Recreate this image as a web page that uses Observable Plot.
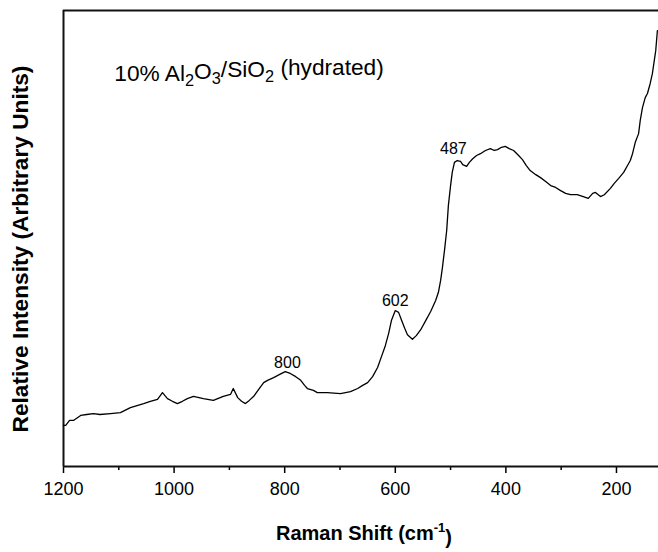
<!DOCTYPE html>
<html><head><meta charset="utf-8">
<script src="https://cdn.jsdelivr.net/npm/d3@7"></script>
<script src="https://cdn.jsdelivr.net/npm/@observablehq/plot@0.6"></script>
<style>body{margin:0;background:#fff;}</style>
</head><body><div id="chart"></div>
<script>
// Raman shift (cm-1) and relative intensity (arbitrary units, 0-100 frame)
const shift = [1200,1196,1189,1182,1169,1158,1146,1134,1115,1097,1079,1055,1043,1030,1021,1012,1003,994,985,976,965,947,929,911,898,893,885,878,871,864,856,847,838,831,820,809,799,790,780,771,764,759,748,741,723,699,681,668,659,650,641,632,625,618,612,607,600,594,589,583,578,569,562,554,545,536,527,522,518,515,511,507,504,500,497,493,488,482,478,471,466,460,453,446,437,428,421,415,408,401,394,386,377,370,363,356,346,338,328,319,310,301,292,283,271,260,251,243,238,229,222,211,204,196,187,180,175,171,166,160,157,153,148,144,139,135,129,126];
const intensity = [9.0,9.0,10.1,10.1,11.2,11.4,11.6,11.4,11.6,11.8,12.9,13.8,14.3,14.7,16.2,14.9,14.3,13.8,14.3,14.9,15.4,14.9,14.5,15.4,15.8,17.1,15.1,14.3,13.8,14.5,15.4,16.9,18.4,18.9,19.5,20.2,20.8,20.4,19.7,18.9,17.8,17.1,16.7,16.2,16.2,16.0,16.4,17.1,17.8,18.4,19.7,21.7,24.1,26.5,29.2,32.0,34.2,33.8,32.2,30.3,28.9,27.9,28.7,30.0,32.0,34.0,36.4,38.2,40.8,43.4,47.4,51.8,57.2,61.6,64.5,66.7,67.1,66.9,66.2,65.8,66.7,67.5,68.2,68.6,69.3,69.7,69.3,69.5,70.0,70.2,69.7,69.3,68.2,67.3,66.0,64.9,64.0,63.4,62.5,61.6,61.2,60.5,59.9,59.6,59.6,59.2,58.8,59.9,60.1,59.2,59.6,61.0,62.1,63.2,64.5,66.0,67.1,68.6,71.1,73.0,75.9,78.7,80.9,81.8,84.0,86.2,91.2,95.6];

const peakLabels = ["800", "602", "487"];
const peakLabelX = [795, 600, 495];
const peakLabelY = [21.7, 35.3, 68.6];

const majorTicks = [1200, 1000, 800, 600, 400, 200];
const minorTicks = [1100, 900, 700, 500, 300];

const sampleLabel = "10% Al2O3/SiO2 (hydrated)";
const xTitle = "Raman Shift (cm-1)";
const yTitle = "Relative Intensity (Arbitrary Units)";

const data = shift.map((s, i) => ({s, v: intensity[i]}));
const peaks = peakLabels.map((t, i) => ({t, x: peakLabelX[i], y: peakLabelY[i]}));

const font = "'Liberation Sans', Arial, Helvetica, sans-serif";

const plot = Plot.plot({
  width: 658, height: 552,
  marginLeft: 63, marginRight: 0, marginTop: 10, marginBottom: 86,
  x: {domain: [1200, 124], axis: null},
  y: {domain: [0, 100], axis: null},
  style: {fontFamily: font, background: "white", color: "#000", overflow: "visible"},
  marks: [
    Plot.axisX({ticks: majorTicks, tickSize: 7, tickPadding: 9, fontSize: 18, strokeWidth: 1.5, tickFormat: d => String(d), label: null}),
    Plot.axisX({ticks: minorTicks, tickSize: 4, text: null, strokeWidth: 1.5, label: null}),
    Plot.ruleY([0], {stroke: "#111", strokeWidth: 2}),
    Plot.ruleY([100], {stroke: "#111", strokeWidth: 2}),
    Plot.ruleX([1200], {stroke: "#111", strokeWidth: 2}),
    Plot.line(data, {x: "s", y: "v", stroke: "#000", strokeWidth: 1.3}),
    Plot.text(peaks, {x: "x", y: "y", text: "t", fontSize: 16, textAnchor: "middle", lineAnchor: "bottom", fill: "#000"}),
    Plot.text([sampleLabel], {x: 1108, y: 84.5, text: d => d, fontSize: 22.7, textAnchor: "start", lineAnchor: "bottom", fill: "#000"})
  ]
});

const svg = d3.select(plot);

// subscripts in the sample label
svg.selectAll("text").filter(function() { return this.textContent === sampleLabel; }).each(function() {
  const t = d3.select(this);
  t.text(null);
  const parts = [["10% Al", false], ["2", true], ["O", false], ["3", true], ["/SiO", false], ["2", true], [" (hydrated)", false]];
  let shifted = false;
  for (const [s, sub] of parts) {
    const ts = t.append("tspan").text(s);
    if (sub) { ts.attr("font-size", "0.72em").attr("dy", "0.3em"); shifted = true; }
    else if (shifted) { ts.attr("dy", "-0.3em"); shifted = false; }
  }
});

// axis titles
const xt = svg.append("text")
  .attr("x", 364).attr("y", 540)
  .attr("text-anchor", "middle")
  .attr("font-family", font).attr("font-size", 20).attr("font-weight", "bold");
xt.append("tspan").text("Raman Shift (cm");
xt.append("tspan").text("-1").attr("font-size", "0.65em").attr("dy", "-0.6em");
xt.append("tspan").text(")").attr("dy", "0.6em");

svg.append("text")
  .attr("transform", "translate(28,249) rotate(-90)")
  .attr("text-anchor", "middle")
  .attr("font-family", font).attr("font-size", 22.7).attr("font-weight", "bold")
  .text(yTitle);

document.getElementById("chart").append(plot);
</script>
</body></html>
